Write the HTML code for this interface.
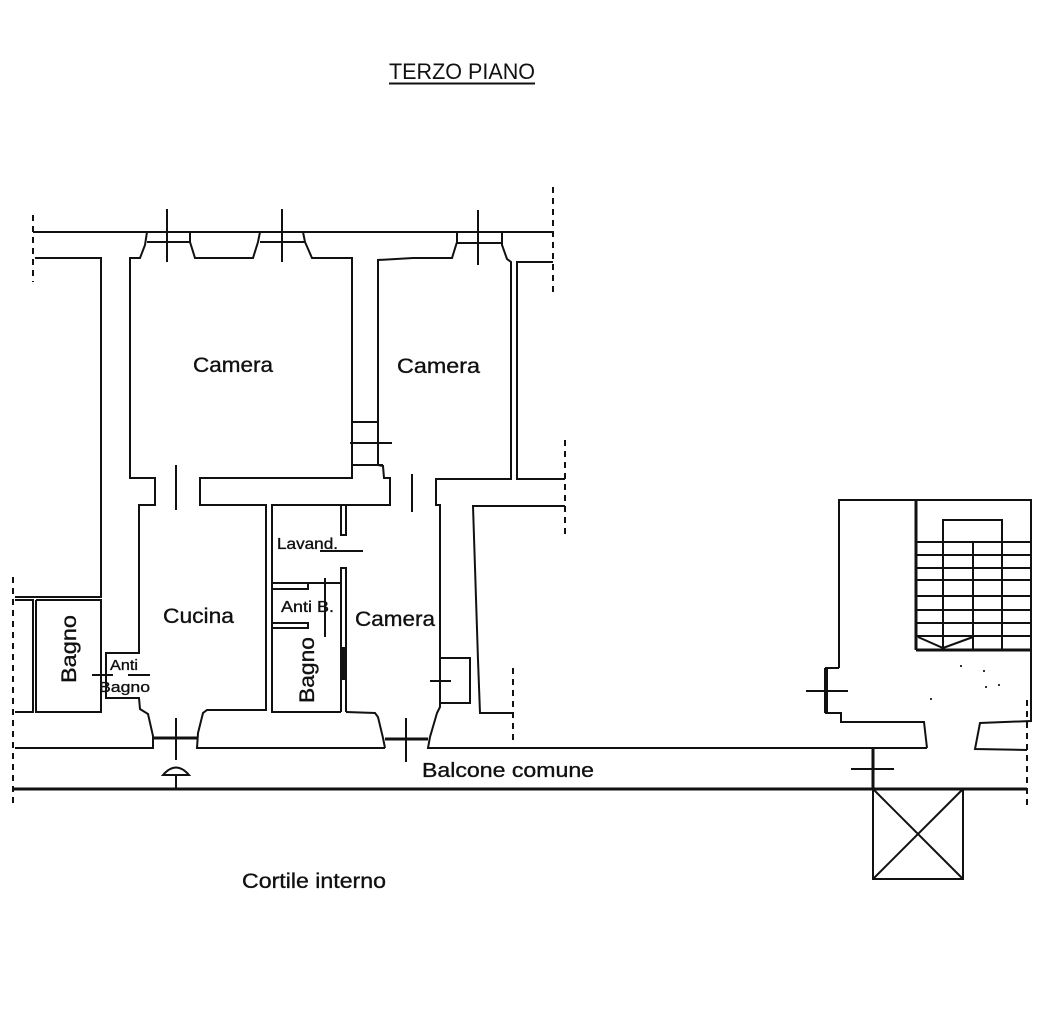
<!DOCTYPE html>
<html><head><meta charset="utf-8"><style>
html,body{margin:0;padding:0;background:#fff;}
svg{display:block;}
text{font-family:"Liberation Sans",Arial,sans-serif;fill:#111;}
.lbl{stroke:#111;stroke-width:0.35;}
</style></head><body>
<svg width="1039" height="1012" viewBox="0 0 1039 1012" xmlns="http://www.w3.org/2000/svg">
<rect width="1039" height="1012" fill="#fff"/>
<g fill="none" stroke="#111" stroke-width="2" stroke-linejoin="miter">
<!-- top outer wall -->
<line x1="33" y1="232" x2="553" y2="232"/>
<!-- window frames -->
<line x1="147" y1="242" x2="190" y2="242"/>
<line x1="260" y1="242" x2="305" y2="242"/>
<line x1="457" y1="243" x2="502" y2="243"/>
<!-- window ticks -->
<line x1="167" y1="209" x2="167" y2="262"/>
<line x1="282" y1="209" x2="282" y2="262"/>
<line x1="478" y1="210" x2="478" y2="265"/>
<!-- left upper -->
<polyline points="35,258 101,258 101,597 15,597"/>
<!-- left camera / cucina left -->
<polyline points="147,232 145,245 140,258 130,258 130,478 155,478 155,505 139,505 139,653 106,653 106,698 139,698 140,709 148,714 153,736 153,748 15,748"/>
<!-- left bagno -->
<polyline points="15,600 33,600 33,712 15,712"/>
<polyline points="36,600 101,600 101,712 36,712 36,600"/>
<!-- between windows 1-2 -->
<polyline points="190,232 190,242 195,258 253,258 258,242 260,232"/>
<!-- window 2 right to middle wall -->
<polyline points="303,232 305,242 312,258 352,258 352,478 200,478 200,505 266,505 266,710 207,710 203,713 198,733 197,748 385,748"/>
<!-- right camera left wall -->
<polyline points="457,233 457,242 452,258 413,258 378,260 378,465 383,466 384,478 390,478 390,505 272,505 272,712 340,712"/>
<!-- stairs small -->
<line x1="352" y1="422" x2="378" y2="422"/>
<line x1="350" y1="443" x2="392" y2="443"/>
<line x1="352" y1="465" x2="383" y2="465"/>
<!-- right camera right wall -->
<polyline points="502,233 502,245 507,259 511,262 511,479 436,479 436,505 440,505 440,707 437,713 430,737 428,748 927,748"/>
<polyline points="553,262 517,262 517,479 565,479"/>
<!-- lower right outer -->
<polyline points="565,506 473,506 478,660 480,713 513,713"/>
<!-- lavand / bagno partitions -->
<polyline points="341,505 341,535 346,535 346,505"/>
<polyline points="341,712 341,568 346,568 346,712"/>
<line x1="343" y1="647" x2="343" y2="680" stroke-width="4"/>
<line x1="272" y1="583" x2="341" y2="583"/>
<polyline points="272,589 308,589 308,583"/>
<polyline points="272,623 308,623 308,628 272,628"/>
<line x1="272" y1="712" x2="341" y2="712"/>
<!-- lower camera bottom -->
<polyline points="346,712 375,713 378,717 383,738 385,748"/>
<!-- small box -->
<rect x="440" y="658" width="30" height="45"/>
<line x1="430" y1="681" x2="451" y2="681"/>
<!-- door frames -->
<line x1="153" y1="738" x2="197" y2="738" stroke-width="3"/>
<line x1="385" y1="739" x2="428" y2="739" stroke-width="3"/>
<!-- door ticks -->
<line x1="176" y1="465" x2="176" y2="510"/>
<line x1="412" y1="474" x2="412" y2="512"/>
<line x1="176" y1="718" x2="176" y2="760"/>
<line x1="406" y1="718" x2="406" y2="762"/>
<line x1="320" y1="551" x2="363" y2="551"/>
<line x1="325" y1="578" x2="325" y2="637"/>
<line x1="92" y1="675" x2="113" y2="675"/>
<line x1="128" y1="675" x2="150" y2="675"/>
<!-- umbrella symbol -->
<path d="M163,775 Q176,760 189,775 Z"/>
<line x1="176" y1="775" x2="176" y2="789"/>
<!-- balcony outer -->
<line x1="13" y1="789" x2="1027" y2="789" stroke-width="3"/>
<!-- stair building -->
<polyline points="839,668 839,500 1031,500 1031,721 980,723 975,749 1027,750"/>
<polyline points="839,668 826,668 826,713 841,713 841,722 924,722 927,748"/>
<line x1="826" y1="668" x2="826" y2="713" stroke-width="4"/>
<line x1="806" y1="691" x2="848" y2="691"/>
<line x1="916" y1="500" x2="916" y2="650" stroke-width="3"/>
<line x1="916" y1="650" x2="1031" y2="650" stroke-width="3"/>
<line x1="916" y1="542" x2="1031" y2="542"/>
<line x1="916" y1="555" x2="1031" y2="555"/>
<line x1="916" y1="568" x2="1031" y2="568"/>
<line x1="916" y1="580" x2="1031" y2="580"/>
<line x1="916" y1="596" x2="1031" y2="596"/>
<line x1="916" y1="610" x2="1031" y2="610"/>
<line x1="916" y1="623" x2="1031" y2="623"/>
<line x1="916" y1="636" x2="973" y2="636"/>
<line x1="973" y1="636" x2="1031" y2="636"/>
<polyline points="943,650 943,520 1002,520 1002,650"/>
<line x1="973" y1="542" x2="973" y2="650"/>
<polyline points="918,637 943,648 973,637"/>
<!-- stair tick on balcony -->
<line x1="873" y1="748" x2="873" y2="790" stroke-width="3"/>
<line x1="851" y1="769" x2="894" y2="769"/>
<!-- X box -->
<rect x="873" y="789" width="90" height="90"/>
<line x1="873" y1="789" x2="963" y2="879"/>
<line x1="963" y1="789" x2="873" y2="879"/>
</g>
<!-- dashed lines -->
<g fill="none" stroke="#111" stroke-width="2" stroke-dasharray="6,5">
<line x1="33" y1="215" x2="33" y2="282"/>
<line x1="553" y1="187" x2="553" y2="293"/>
<line x1="565" y1="440" x2="565" y2="535"/>
<line x1="13" y1="577" x2="13" y2="807"/>
<line x1="513" y1="668" x2="513" y2="740"/>
<line x1="1027" y1="700" x2="1027" y2="808"/>
</g>
<!-- specks -->
<g fill="#333">
<rect x="960" y="665" width="2" height="2"/><rect x="983" y="670" width="2" height="2"/>
<rect x="985" y="686" width="2" height="2"/><rect x="998" y="684" width="2" height="2"/>
<rect x="930" y="698" width="2" height="2"/>
</g>
<!-- title -->
<text x="389" y="79" font-size="22" textLength="146" lengthAdjust="spacingAndGlyphs">TERZO PIANO</text>
<line x1="389" y1="83.5" x2="535" y2="83.5" stroke="#111" stroke-width="2"/>
<!-- labels -->
<g class="lbl">
<text x="193" y="372" font-size="21" textLength="80" lengthAdjust="spacingAndGlyphs">Camera</text>
<text x="397" y="373" font-size="21" textLength="83" lengthAdjust="spacingAndGlyphs">Camera</text>
<text x="163" y="623" font-size="21" textLength="71" lengthAdjust="spacingAndGlyphs">Cucina</text>
<text x="355" y="626" font-size="21" textLength="80" lengthAdjust="spacingAndGlyphs">Camera</text>
<text x="277" y="549" font-size="16" textLength="61" lengthAdjust="spacingAndGlyphs">Lavand.</text>
<text x="281" y="612" font-size="16" textLength="53" lengthAdjust="spacingAndGlyphs">Anti B.</text>
<text x="110" y="670" font-size="15" textLength="28" lengthAdjust="spacingAndGlyphs">Anti</text>
<text x="99" y="692" font-size="15" textLength="51" lengthAdjust="spacingAndGlyphs">Bagno</text>
<text transform="translate(76,683) rotate(-90)" font-size="21" textLength="68" lengthAdjust="spacingAndGlyphs">Bagno</text>
<text transform="translate(314,703) rotate(-90)" font-size="21" textLength="66" lengthAdjust="spacingAndGlyphs">Bagno</text>
<text x="422" y="777" font-size="20" textLength="172" lengthAdjust="spacingAndGlyphs">Balcone comune</text>
<text x="242" y="888" font-size="21" textLength="144" lengthAdjust="spacingAndGlyphs">Cortile interno</text>
</g>
</svg>
</body></html>
